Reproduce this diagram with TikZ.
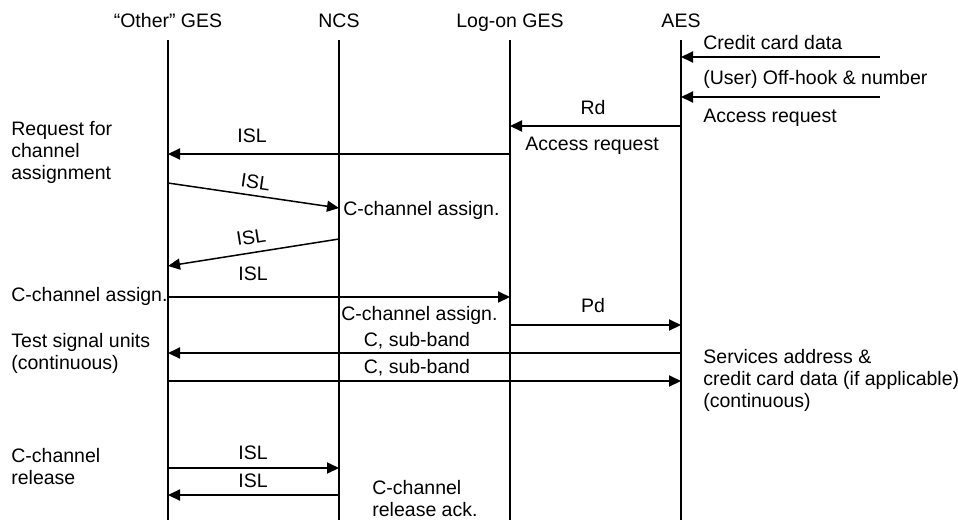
\documentclass[tikz,border=0pt]{standalone}
\usepackage{fontspec}
\setmainfont{Liberation Sans}
\usetikzlibrary{arrows.meta}

\begin{document}
\begin{tikzpicture}%
  [x=0.5pt,y=-0.5pt,
   font=\fontsize{9.75pt}{11pt}\selectfont,
   every node/.style={inner sep=0pt},
   station/.style={anchor=base},
   lifeline/.style={line width=1pt},
   flow/.style={line width=1pt,-{Triangle[length=6pt,width=5.5pt]}},
   slant/.style={line width=0.75pt,-{Triangle[length=6pt,width=5.5pt]}},
   note/.style={anchor=base west,align=left},
   msgtext/.style={anchor=base}
  ]
  \useasboundingbox (0,0) rectangle (958,520);
  \node[station] (oges) at (168,27) {“Other” GES};
  \node[station] (ncs) at (339,27) {NCS};
  \node[station] (lges) at (510,27) {Log-on GES};
  \node[station] (aes) at (681,27) {AES};
  \coordinate (top) at (0,40);
  \coordinate (bot) at (0,520);
  \foreach \s in {oges,ncs,lges,aes}
    \draw[lifeline] (\s |- top) -- (\s |- bot);

  \coordinate (user1) at (880,57);
  \coordinate (user2) at (880,97);
  \draw[flow] (user1) -- (aes |- user1);
  \draw[flow] (user2) -- (aes |- user2);
  \node[note] (cardtxt) at (703,49) {Credit card data};
  \node[note] (hooktxt) at (703,84) {(User) Off-hook \& number};
  \node[note] (acctxt) at (703,122) {Access request};

  \coordinate (rd) at (0,126);
  \draw[flow] (aes |- rd) -- (lges |- rd);
  \node[msgtext] (rdtxt) at (593,114) {Rd};
  \node[note] (acc2txt) at (525,150) {Access request};
  \coordinate (isl1) at (0,154);
  \draw[flow] (lges |- isl1) -- (oges |- isl1);
  \node[msgtext] (isl1txt) at (252,142) {ISL};
  \node[note] (reqtxt) at (11,179) {Request for\\channel\\assignment};

  \coordinate (d1a) at (0,183);
  \coordinate (d1b) at (0,208);
  \draw[slant] (oges |- d1a) -- node[sloped,above=3pt] (isl2txt) {ISL} (ncs |- d1b);
  \node[note] (asg1txt) at (343,215) {C-channel assign.};
  \coordinate (d2a) at (0,239);
  \coordinate (d2b) at (0,266);
  \draw[slant] (ncs |- d2a) -- node[sloped,above=4pt] (isl3txt) {ISL} (oges |- d2b);
  \node[msgtext] (isl4txt) at (253,280) {ISL};

  \coordinate (asg) at (0,297);
  \draw[flow] (oges |- asg) -- (lges |- asg);
  \node[note] (asg2txt) at (11,301) {C-channel assign.};
  \node[note] (asg3txt) at (341,320) {C-channel assign.};
  \coordinate (pd) at (0,325);
  \draw[flow] (lges |- pd) -- (aes |- pd);
  \node[msgtext] (pdtxt) at (593,312) {Pd};

  \coordinate (sb1) at (0,353);
  \coordinate (sb2) at (0,381);
  \draw[flow] (aes |- sb1) -- (oges |- sb1);
  \draw[flow] (oges |- sb2) -- (aes |- sb2);
  \node[msgtext] (sb1txt) at (417,346) {C, sub-band};
  \node[msgtext] (sb2txt) at (417,373) {C, sub-band};
  \node[note] (testtxt) at (11,369) {Test signal units\\(continuous)};
  \node[note] (svctxt) at (703,407) {Services address \&\\credit card data (if applicable)\\(continuous)};

  \coordinate (rel1) at (0,468);
  \coordinate (rel2) at (0,495);
  \draw[flow] (oges |- rel1) -- (ncs |- rel1);
  \draw[flow] (ncs |- rel2) -- (oges |- rel2);
  \node[msgtext] (rel1txt) at (253,459) {ISL};
  \node[msgtext] (rel2txt) at (253,487) {ISL};
  \node[note] (reltxt) at (11,484) {C-channel\\release};
  \node[note] (acktxt) at (372,516) {C-channel\\release ack.};
\end{tikzpicture}
\end{document}
